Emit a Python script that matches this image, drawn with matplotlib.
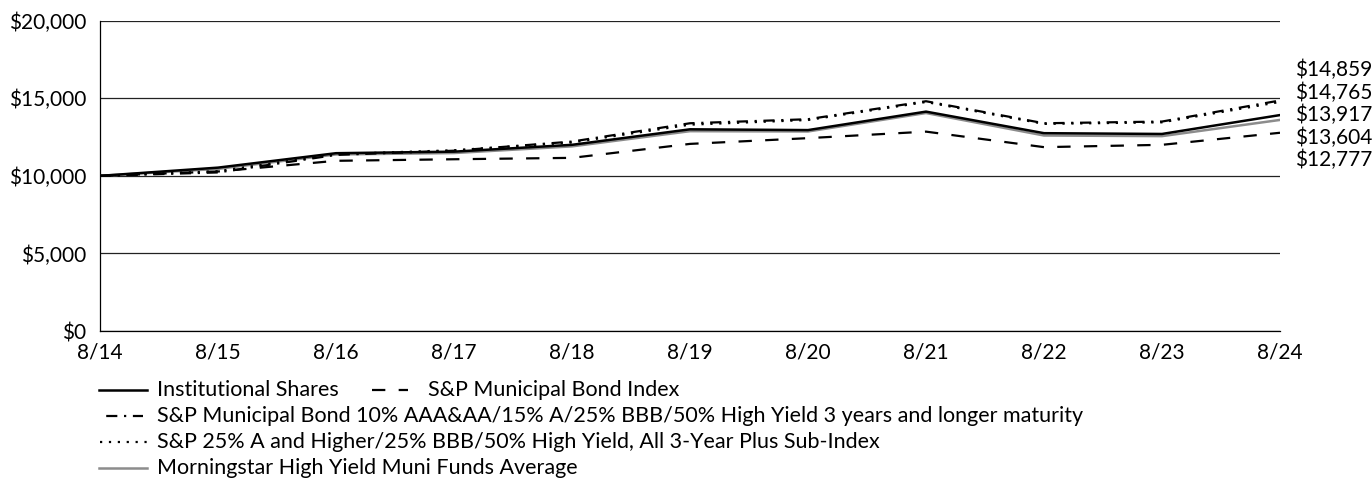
import matplotlib
matplotlib.use("Agg")
import matplotlib.pyplot as plt
from matplotlib.lines import Line2D
from matplotlib.ticker import FuncFormatter

plt.rcParams['font.family'] = ['Lato', 'DejaVu Sans']

# ---- data ----
years = ['8/14', '8/15', '8/16', '8/17', '8/18', '8/19', '8/20', '8/21', '8/22', '8/23', '8/24']
institutional = [10000, 10530, 11460, 11560, 12000, 13000, 12950, 14140, 12750, 12700, 13917]
sp_muni = [10000, 10280, 10970, 11070, 11160, 12060, 12430, 12850, 11850, 12000, 12777]
sp_10aaa = [10000, 10220, 11350, 11620, 12210, 13390, 13650, 14810, 13390, 13500, 14859]
sp_25a = [10000, 10300, 11400, 11650, 12150, 13300, 13600, 14760, 13350, 13450, 14765]
morningstar = [10000, 10450, 11380, 11470, 11900, 12880, 12860, 14050, 12600, 12560, 13604]

labels = [
    'Institutional Shares',
    'S&P Municipal Bond Index',
    'S&P Municipal Bond 10% AAA&AA/15% A/25% BBB/50% High Yield 3 years and longer maturity',
    'S&P 25% A and Higher/25% BBB/50% High Yield, All 3-Year Plus Sub-Index',
    'Morningstar High Yield Muni Funds Average',
]
yticks = [0, 5000, 10000, 15000, 20000]

W, H = 1372, 480
fig = plt.figure(figsize=(W / 100, H / 100), dpi=100)
left, right, top, bottom = 100, 1280, 20.7, 331
ax = fig.add_axes([left / W, 1 - bottom / H, (right - left) / W, (bottom - top) / H])

FS = 15
LFS = 15.5
GRAY = '#8c8c8c'
x = list(range(len(years)))

styles = {
    'morn': dict(color=GRAY, lw=1.8, ls='-'),
    'muni': dict(color='black', lw=1.6, ls=(0, (6, 6))),
    'p25': dict(color='black', lw=1.6, ls=(0, (1, 3))),
    'p10': dict(color='black', lw=1.6, ls=(0, (5, 3, 1, 3))),
    'inst': dict(color='black', lw=1.8, ls='-'),
}

ax.plot(x, morningstar, **styles['morn'], zorder=3)
ax.plot(x, sp_muni, **styles['muni'], zorder=3)
ax.plot(x, sp_25a, **styles['p25'], zorder=3)
ax.plot(x, sp_10aaa, **styles['p10'], zorder=3)
ax.plot(x, institutional, **styles['inst'], zorder=4)

ax.set_xlim(0, len(years) - 1)
ax.set_ylim(0, 20000)
ax.set_xticks(x)
ax.set_xticklabels(years, fontsize=FS)
ax.set_yticks(yticks)
ax.yaxis.set_major_formatter(FuncFormatter(lambda v, p: f"${v:,.0f}"))
for t in ax.get_yticklabels():
    t.set_fontsize(FS)
ax.tick_params(axis='both', length=0, labelsize=FS)
ax.tick_params(axis='y', pad=10)
ax.tick_params(axis='x', pad=8)
ax.grid(axis='y', color='#222222', lw=0.9)
ax.set_axisbelow(True)
for s in ['top', 'right']:
    ax.spines[s].set_visible(False)
for s in ['left', 'bottom']:
    ax.spines[s].set_color('black')
    ax.spines[s].set_linewidth(0.9)

# right-side end labels
finals = sorted([institutional[-1], sp_muni[-1], sp_10aaa[-1], sp_25a[-1], morningstar[-1]], reverse=True)
label_y = [70, 92.5, 115, 137.5, 160]
for v, yy in zip(finals, label_y):
    fig.text(1295 / W, 1 - yy / H, f"${v:,.0f}", fontsize=FS, va='center', ha='left')

# manual legend
def leg(x0, x1, yy, style, tx, text):
    fig.add_artist(Line2D([x0 / W, x1 / W], [1 - yy / H, 1 - yy / H],
                          transform=fig.transFigure, **style))
    fig.text(tx / W, 1 - yy / H, text, fontsize=LFS, va='center', ha='left')

leg(99, 147, 390, styles['inst'], 157, labels[0])
leg(372, 408, 390, styles['muni'], 428, labels[1])
leg(104, 143, 416, dict(color='black', lw=1.6, ls=(3, (1, 3, 5, 3))), 157, labels[2])
leg(100, 148, 442, styles['p25'], 157, labels[3])
leg(99, 147, 468, styles['morn'], 157, labels[4])

fig.savefig('out.png', dpi=100)
